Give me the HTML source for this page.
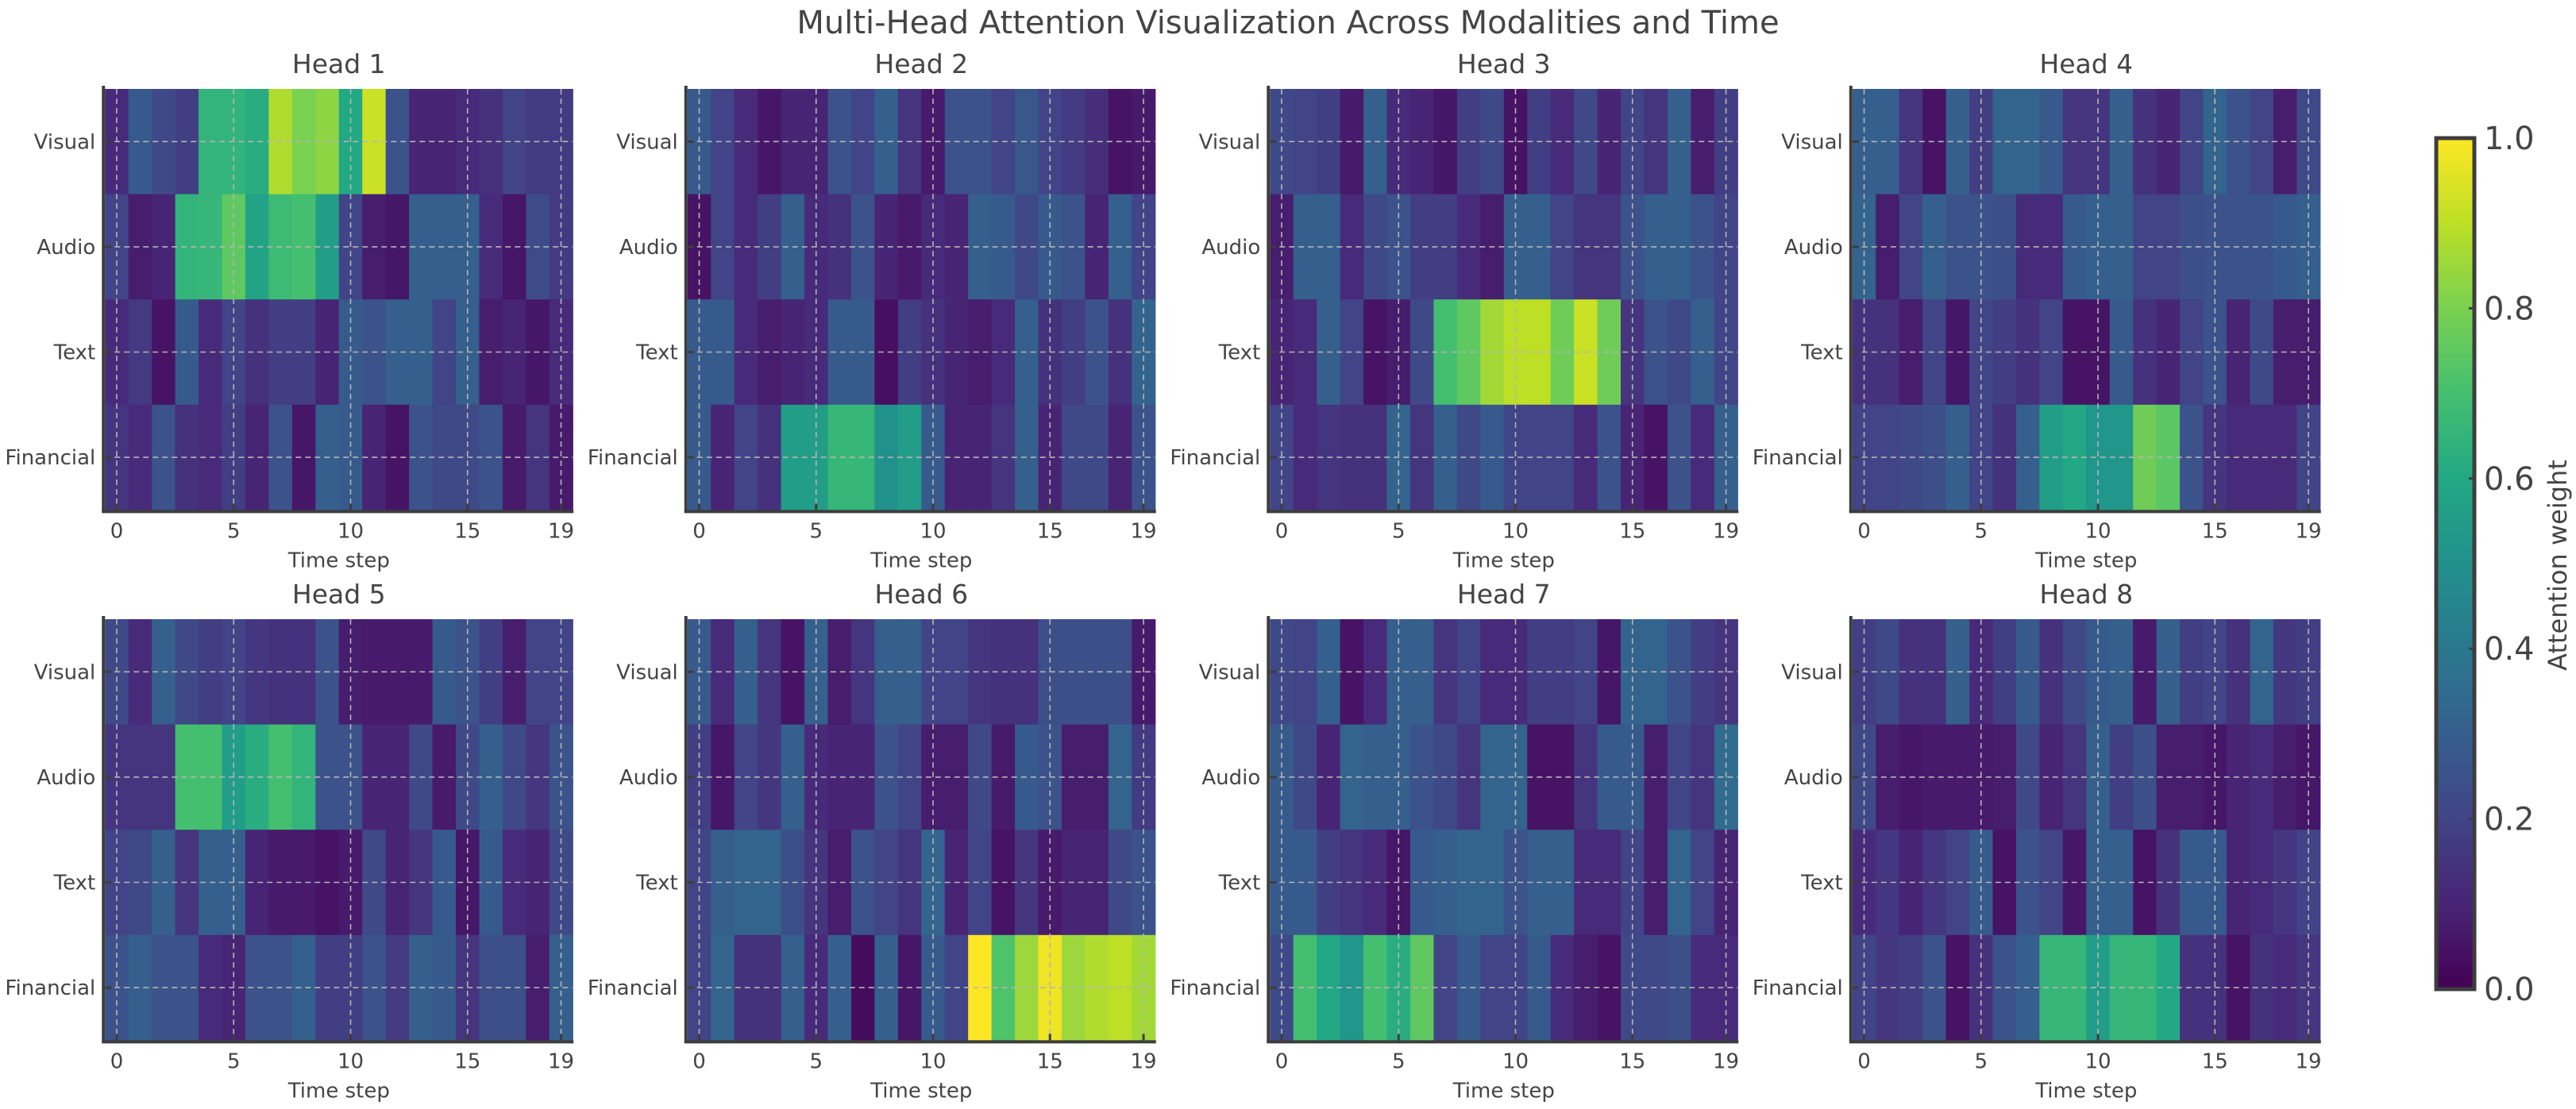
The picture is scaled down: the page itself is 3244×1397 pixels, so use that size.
<!DOCTYPE html>
<html><head><meta charset="utf-8"><style>
html,body{margin:0;padding:0;background:#fff;}
svg{display:block;}
text{font-family:"DejaVu Sans","Liberation Sans",sans-serif;fill:#444;}
</style></head><body>
<svg id="chart" width="3244" height="1397" viewBox="0 0 3244 1397" xmlns="http://www.w3.org/2000/svg">
<text x="1622" y="42" font-size="40" text-anchor="middle">Multi-Head Attention Visualization Across Modalities and Time</text>
<g id="panels"></g>
<defs><linearGradient id="vir" x1="0" y1="1" x2="0" y2="0"></linearGradient></defs>
<g id="cbar"></g>
</svg>
<script>
const modalities = ["Visual","Audio","Text","Financial"];
const timeTicks = [0,5,10,15,19];
const cbarTicks = [0.0,0.2,0.4,0.6,0.8,1.0];
const head1 = [
[0.12,0.28,0.22,0.18,0.65,0.65,0.62,0.88,0.8,0.83,0.6,0.92,0.25,0.1,0.1,0.12,0.14,0.2,0.17,0.17],
[0.2,0.08,0.1,0.65,0.66,0.75,0.58,0.68,0.7,0.55,0.2,0.08,0.06,0.3,0.3,0.3,0.12,0.06,0.23,0.17],
[0.12,0.17,0.05,0.28,0.12,0.2,0.14,0.18,0.18,0.1,0.28,0.25,0.3,0.3,0.2,0.3,0.08,0.1,0.06,0.12],
[0.15,0.12,0.25,0.14,0.12,0.18,0.1,0.25,0.06,0.3,0.28,0.1,0.05,0.25,0.22,0.22,0.25,0.07,0.15,0.07]];
const head2 = [
[0.28,0.2,0.12,0.06,0.1,0.1,0.25,0.2,0.3,0.15,0.07,0.25,0.25,0.2,0.27,0.2,0.17,0.13,0.05,0.07],
[0.05,0.2,0.12,0.18,0.3,0.12,0.14,0.25,0.1,0.07,0.12,0.1,0.3,0.28,0.22,0.28,0.25,0.1,0.3,0.2],
[0.28,0.28,0.12,0.08,0.1,0.12,0.28,0.28,0.04,0.18,0.14,0.1,0.08,0.12,0.3,0.14,0.18,0.25,0.14,0.32],
[0.28,0.1,0.2,0.14,0.55,0.55,0.66,0.66,0.5,0.55,0.28,0.1,0.1,0.15,0.3,0.1,0.22,0.22,0.1,0.25]];
const head3 = [
[0.22,0.2,0.18,0.07,0.3,0.12,0.1,0.06,0.18,0.22,0.05,0.18,0.12,0.22,0.1,0.2,0.15,0.3,0.08,0.18],
[0.08,0.3,0.3,0.12,0.22,0.25,0.18,0.18,0.12,0.08,0.3,0.3,0.2,0.15,0.15,0.25,0.3,0.3,0.25,0.2],
[0.1,0.12,0.3,0.2,0.05,0.08,0.22,0.7,0.75,0.86,0.9,0.9,0.78,0.92,0.78,0.15,0.25,0.22,0.3,0.2],
[0.2,0.12,0.15,0.14,0.14,0.32,0.15,0.3,0.22,0.28,0.2,0.2,0.2,0.12,0.25,0.1,0.05,0.25,0.12,0.3]];
const head4 = [
[0.3,0.3,0.15,0.05,0.3,0.18,0.32,0.32,0.28,0.15,0.15,0.3,0.14,0.1,0.2,0.32,0.25,0.2,0.08,0.22],
[0.32,0.08,0.2,0.3,0.25,0.25,0.24,0.12,0.12,0.28,0.3,0.3,0.2,0.2,0.24,0.25,0.25,0.26,0.28,0.3],
[0.14,0.14,0.08,0.2,0.06,0.2,0.18,0.14,0.2,0.05,0.05,0.28,0.14,0.1,0.2,0.25,0.1,0.22,0.08,0.08],
[0.2,0.2,0.22,0.24,0.3,0.2,0.14,0.3,0.55,0.6,0.52,0.52,0.78,0.74,0.25,0.15,0.12,0.12,0.12,0.2]];
const head5 = [
[0.22,0.12,0.3,0.22,0.18,0.2,0.16,0.14,0.14,0.25,0.08,0.07,0.07,0.07,0.28,0.25,0.18,0.08,0.2,0.2],
[0.15,0.15,0.15,0.7,0.7,0.55,0.62,0.7,0.65,0.25,0.25,0.1,0.1,0.22,0.07,0.22,0.3,0.22,0.16,0.25],
[0.2,0.22,0.3,0.15,0.3,0.3,0.1,0.07,0.07,0.05,0.07,0.22,0.1,0.15,0.28,0.06,0.28,0.12,0.1,0.22],
[0.25,0.3,0.25,0.25,0.12,0.1,0.25,0.25,0.3,0.18,0.18,0.25,0.17,0.3,0.28,0.15,0.24,0.24,0.08,0.3]];
const head6 = [
[0.28,0.12,0.3,0.15,0.05,0.3,0.08,0.15,0.3,0.3,0.2,0.2,0.15,0.14,0.14,0.24,0.24,0.24,0.24,0.07],
[0.18,0.06,0.2,0.16,0.3,0.12,0.1,0.1,0.25,0.2,0.08,0.08,0.22,0.07,0.28,0.25,0.08,0.08,0.32,0.17],
[0.2,0.3,0.32,0.32,0.24,0.15,0.08,0.25,0.2,0.15,0.32,0.1,0.2,0.05,0.16,0.07,0.1,0.1,0.22,0.25],
[0.2,0.32,0.14,0.14,0.3,0.12,0.3,0.03,0.3,0.06,0.28,0.2,1.0,0.72,0.85,0.98,0.85,0.88,0.9,0.86]];
const head7 = [
[0.22,0.2,0.3,0.05,0.12,0.3,0.3,0.15,0.2,0.12,0.12,0.18,0.18,0.2,0.06,0.32,0.32,0.25,0.18,0.15],
[0.28,0.22,0.1,0.32,0.3,0.3,0.25,0.22,0.15,0.32,0.32,0.05,0.05,0.15,0.28,0.28,0.08,0.2,0.15,0.35],
[0.28,0.28,0.18,0.15,0.12,0.06,0.28,0.3,0.32,0.32,0.25,0.3,0.3,0.12,0.12,0.2,0.08,0.32,0.2,0.1],
[0.22,0.7,0.6,0.52,0.7,0.62,0.75,0.2,0.28,0.2,0.2,0.28,0.12,0.08,0.05,0.22,0.22,0.24,0.12,0.12]];
const head8 = [
[0.18,0.22,0.14,0.14,0.3,0.12,0.18,0.28,0.14,0.22,0.28,0.3,0.07,0.3,0.18,0.2,0.14,0.32,0.16,0.18],
[0.22,0.08,0.06,0.07,0.07,0.07,0.08,0.22,0.1,0.15,0.3,0.18,0.24,0.08,0.08,0.06,0.1,0.12,0.08,0.06],
[0.12,0.16,0.1,0.16,0.2,0.28,0.05,0.25,0.2,0.06,0.3,0.3,0.05,0.14,0.28,0.28,0.1,0.12,0.16,0.2],
[0.2,0.16,0.18,0.25,0.05,0.14,0.25,0.3,0.66,0.66,0.55,0.66,0.66,0.6,0.14,0.14,0.05,0.14,0.12,0.16]];
const heads = [head1,head2,head3,head4,head5,head6,head7,head8];

const NS="http://www.w3.org/2000/svg";
const vstops=["#440154","#482475","#414487","#355f8d","#2a788e","#21918c","#22a884","#44bf70","#7ad151","#bddf26","#fde725"];
function hex(h){return [1,3,5].map(i=>parseInt(h.substr(i,2),16));}
function viridis(v){v=Math.max(0,Math.min(1,v));const p=v*10,i=Math.min(9,Math.floor(p)),t=p-i;const a=hex(vstops[i]),b=hex(vstops[i+1]);return "rgb("+a.map((c,k)=>Math.round(c+(b[k]-c)*t)).join(",")+")";}
function mk(tag,attrs,parent){const e=document.createElementNS(NS,tag);for(const k in attrs)e.setAttribute(k,attrs[k]);parent.appendChild(e);return e;}

const panels=document.getElementById("panels");
const UX=29.45;
heads.forEach((data,h)=>{
  const col=h%4,row=Math.floor(h/4);
  const x0=147+col*733.5;
  const top=row===0?112:780, rowH=132.6;
  const xs=t=>x0+t*UX;
  const ys=r=>top+r*rowH;
  const g=mk("g",{},panels);
  
  
  data.forEach((rowVals,r)=>{
    rowVals.forEach((v,t)=>{
      const c=mk("rect",{x:xs(t-0.5),y:ys(r),width:UX+0.6,height:rowH+0.6,fill:viridis(v)},g);
      
      
    });
  });
  const left=xs(-0.5), right=xs(19.5), bottom=ys(4);
  // grid
  timeTicks.forEach(t=>{
    const l=mk("line",{x1:xs(t),x2:xs(t),y1:top,y2:bottom,stroke:"#b5b5b5","stroke-width":1.6,"stroke-dasharray":"7,5"},g);
    
    
  });
  modalities.forEach((m,r)=>{
    const yc=ys(r+0.5);
    const l=mk("line",{x1:left,x2:right,y1:yc,y2:yc,stroke:"#b5b5b5","stroke-width":1.6,"stroke-dasharray":"7,5"},g);
    
    
    mk("line",{x1:left,x2:left+8,y1:yc,y2:yc,stroke:"#3d3d3d","stroke-width":3},g);
    const tx=mk("text",{x:left-12,y:yc+9,"font-size":26,"text-anchor":"end"},g);
    tx.textContent=m;
    
    
  });
  timeTicks.forEach(t=>{
    mk("line",{x1:xs(t),x2:xs(t),y1:bottom,y2:bottom-8,stroke:"#3d3d3d","stroke-width":3},g);
    const tx=mk("text",{x:xs(t),y:bottom+35,"font-size":26,"text-anchor":"middle"},g);
    tx.textContent=String(t);
    
    
  });
  mk("line",{x1:left-2,x2:left-2,y1:top-4,y2:bottom+2,stroke:"#3d3d3d","stroke-width":4},g);
  mk("line",{x1:left-4,x2:right+1,y1:bottom+2,y2:bottom+2,stroke:"#3d3d3d","stroke-width":4},g);
  const xl=mk("text",{x:(left+right)/2,y:bottom+72,"font-size":26,"text-anchor":"middle"},g);
  xl.textContent="Time step";
  
  
  const tt=mk("text",{x:(left+right)/2,y:top-20,"font-size":33,"text-anchor":"middle"},g);
  tt.textContent="Head "+(h+1);
  
  
});

// colorbar
const grad=document.getElementById("vir");
vstops.forEach((c,i)=>mk("stop",{offset:(i*10)+"%","stop-color":c},grad));
const cb=document.getElementById("cbar");
const cbTop=174,cbBot=1246,cbL=3068,cbR=3116;
const cy=v=>cbBot-(cbBot-cbTop)*v;
mk("rect",{x:cbL,y:cbTop,width:cbR-cbL,height:cbBot-cbTop,fill:"url(#vir)"},cb);
mk("rect",{x:cbL,y:cbTop,width:cbR-cbL,height:cbBot-cbTop,fill:"none",stroke:"#3d3d3d","stroke-width":5},cb);
cbarTicks.forEach(v=>{
  mk("line",{x1:cbR,x2:cbR-7,y1:cy(v),y2:cy(v),stroke:"#3d3d3d","stroke-width":3},cb);
  const tx=mk("text",{x:cbR+12,y:cy(v)+14,"font-size":40},cb);
  tx.textContent=v.toFixed(1);
  
  
});
const cl=mk("text",{x:0,y:0,"font-size":32,"text-anchor":"middle",transform:"translate(3232,712) rotate(-90)"},cb);
cl.textContent="Attention weight";


</script>
</body></html>
